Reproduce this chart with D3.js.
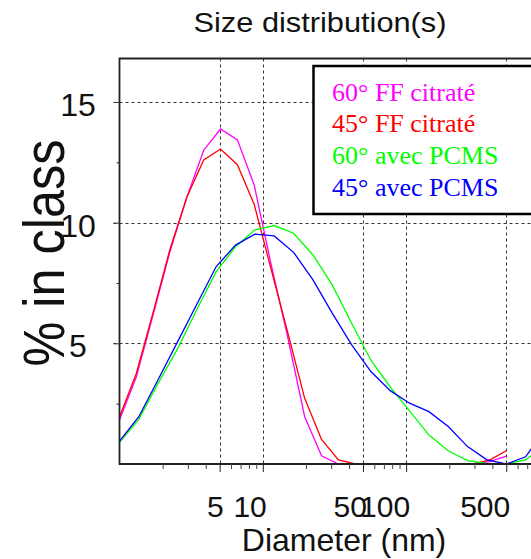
<!DOCTYPE html>
<html>
<head>
<meta charset="utf-8">
<script src="https://cdn.jsdelivr.net/npm/d3@7"></script>
<style>
  html, body { margin: 0; padding: 0; background: #fff; }
  svg { display: block; }
</style>
</head>
<body>
<div id="chart"></div>
<script>
// ---- Data ----
const sizesFF = [1, 1.31, 1.72, 2.25, 2.95, 3.87, 5.07, 6.65, 8.71, 11.4, 15.0, 19.6,
                 25.7, 33.7, 44.2, 57.9, 75.9, 99.5, 130, 171, 224, 293, 385, 500];
const ff60 = [1.82, 3.6, 6.2, 8.8, 11.05, 13.0, 13.88, 13.43, 11.56, 8.3, 5.2, 1.96,
              0.34, 0, 0, 0, 0, 0, 0, 0, 0, 0, 0.1, 0.33];
const ff45 = [1.95, 3.75, 6.3, 8.9, 11.05, 12.6, 13.05, 12.4, 10.75, 8.1, 5.4, 2.72,
              1.02, 0.17, 0, 0, 0, 0, 0, 0, 0, 0, 0.17, 0.55];

const sizesPCMS = [1, 1.364, 1.862, 2.54, 3.466, 4.729, 6.452, 8.80, 12.0, 16.4, 22.4, 30.5,
                   41.6, 56.8, 77.5, 105.7, 144.3, 196.8, 268.6, 366.4, 500, 682, 931];
const pcms60 = [0.9, 1.85, 3.35, 4.77, 6.4, 7.97, 9.0, 9.7, 9.88, 9.56, 8.66, 7.42,
                5.84, 4.3, 3.19, 2.2, 1.2, 0.55, 0.14, 0.03, 0, 0.17, 0.75];
const pcms45 = [0.95, 1.96, 3.5, 5.06, 6.62, 8.18, 9.07, 9.52, 9.45, 8.77, 7.63, 6.25,
                4.95, 3.83, 3.04, 2.52, 2.17, 1.55, 0.72, 0.17, 0, 0.3, 1.4];

const seriesNames = ["60° FF citraté", "45° FF citraté", "60° avec PCMS", "45° avec PCMS"];
const seriesColors = ["#ff00ff", "#ff0000", "#00ff00", "#0000ff"];

const xMajorTicks = [5, 10, 50, 100, 500];
const xTickLabels = ["5", "10", "50", "100", "500"];
const yMajorTicks = [5, 10, 15];
const yTickLabels = ["5", "10", "15"];
const yMinorTicks = [2.5, 7.5, 12.5];

const titleText = "Size distribution(s)";
const xTitle = "Diameter (nm)";
const yTitle = "% in class";

// ---- Layout ----
const W = 531, H = 559;
const plotL = 119.5, plotT = 58.5, plotB = 464;
const decade = 143.3;
const x = d3.scaleLog().domain([1, 10000]).range([plotL, plotL + 4 * decade]);
const y = d3.scaleLinear().domain([0, 16.8]).range([plotB, plotT]);
const plotR = x(10000);

const svg = d3.select("#chart").append("svg")
  .attr("width", W).attr("height", H);

const clipId = "plotclip";
svg.append("clipPath").attr("id", clipId)
  .append("rect").attr("x", plotL).attr("y", plotT)
  .attr("width", plotR - plotL).attr("height", plotB - plotT);

// grid lines
const grid = svg.append("g").attr("stroke", "#333").attr("stroke-width", 1)
  .attr("stroke-dasharray", "3,3");
grid.selectAll("line.v").data(xMajorTicks).join("line")
  .attr("x1", d => Math.round(x(d)) + 0.5).attr("x2", d => Math.round(x(d)) + 0.5)
  .attr("y1", plotT).attr("y2", plotB);
grid.selectAll("line.h").data(yMajorTicks).join("line")
  .attr("x1", plotL - 6).attr("x2", plotR)
  .attr("y1", d => Math.round(y(d)) + 0.5).attr("y2", d => Math.round(y(d)) + 0.5);

// data lines
const dataSets = [
  { sizes: sizesFF, vals: ff60, color: seriesColors[0] },
  { sizes: sizesFF, vals: ff45, color: seriesColors[1] },
  { sizes: sizesPCMS, vals: pcms60, color: seriesColors[2] },
  { sizes: sizesPCMS, vals: pcms45, color: seriesColors[3] }
];
const line = d3.line().x(d => x(d[0])).y(d => y(d[1]));
const gLines = svg.append("g").attr("clip-path", `url(#${clipId})`);
dataSets.forEach(s => {
  gLines.append("path")
    .datum(s.sizes.map((v, i) => [v, s.vals[i]]))
    .attr("fill", "none").attr("stroke", s.color).attr("stroke-width", 1.3)
    .attr("d", line);
});

// frame
svg.append("path")
  .attr("d", `M${plotR},${plotT}H${plotL}V${plotB}H${plotR}`)
  .attr("fill", "none").attr("stroke", "#222").attr("stroke-width", 1.8);

// x axis ticks (bottom)
const xAxis = d3.axisBottom(x)
  .tickValues(xMajorTicks).tickSize(8).tickFormat("");
svg.append("g").attr("transform", `translate(0,${plotB})`).call(xAxis)
  .call(g => g.select(".domain").remove())
  .call(g => g.selectAll("line").attr("stroke", "#222"));
const minorX = x.ticks().filter(v => !xMajorTicks.includes(v) && v > 1);
const xAxisMinor = d3.axisBottom(x).tickValues(minorX).tickSize(5).tickFormat("");
svg.append("g").attr("transform", `translate(0,${plotB})`).call(xAxisMinor)
  .call(g => g.select(".domain").remove())
  .call(g => g.selectAll("line").attr("stroke", "#444"));

// x tick labels
svg.append("g").selectAll("text").data(xMajorTicks).join("text")
  .attr("x", d => x(d) + 4).attr("y", 516.5)
  .attr("text-anchor", "end")
  .attr("font-family", "Liberation Sans, Arial, sans-serif")
  .attr("font-size", 30).attr("fill", "#111")
  .text((d, i) => xTickLabels[i]);

// y axis ticks
const yAxis = d3.axisLeft(y).tickValues(yMajorTicks).tickSize(6).tickFormat("");
svg.append("g").attr("transform", `translate(${plotL},0)`).call(yAxis)
  .call(g => g.select(".domain").remove())
  .call(g => g.selectAll("line").attr("stroke", "#333"));
const yAxisMinor = d3.axisLeft(y).tickValues(yMinorTicks).tickSize(3).tickFormat("");
svg.append("g").attr("transform", `translate(${plotL},0)`).call(yAxisMinor)
  .call(g => g.select(".domain").remove())
  .call(g => g.selectAll("line").attr("stroke", "#333"));

// y tick labels
svg.append("g").selectAll("text").data(yMajorTicks).join("text")
  .attr("x", 78).attr("y", d => y(d) + 14)
  .attr("text-anchor", "middle")
  .attr("font-family", "Liberation Sans, Arial, sans-serif")
  .attr("font-size", 32).attr("fill", "#111")
  .text((d, i) => yTickLabels[i]);

// legend
const legend = svg.append("g");
legend.append("rect")
  .attr("x", 313.5).attr("y", 66).attr("width", 260).attr("height", 148)
  .attr("fill", "#fff").attr("stroke", "#000").attr("stroke-width", 2.5);
legend.selectAll("text").data(seriesNames).join("text")
  .attr("x", 332).attr("y", (d, i) => 100.5 + i * 31.8)
  .attr("font-family", "Liberation Serif, Times New Roman, serif")
  .attr("font-size", 26)
  .attr("fill", (d, i) => seriesColors[i])
  .text(d => d);

// titles
svg.append("text")
  .attr("x", 193.5).attr("y", 31.5)
  .attr("font-family", "Liberation Sans, Arial, sans-serif")
  .attr("font-size", 28).attr("fill", "#111")
  .attr("textLength", 253).attr("lengthAdjust", "spacingAndGlyphs")
  .text(titleText);

svg.append("text")
  .attr("x", 344).attr("y", 551)
  .attr("text-anchor", "middle")
  .attr("font-family", "Liberation Sans, Arial, sans-serif")
  .attr("font-size", 32).attr("fill", "#111")
  .text(xTitle);

svg.append("text")
  .attr("transform", "translate(63.5,253) rotate(-90)")
  .attr("text-anchor", "middle")
  .attr("font-family", "Liberation Sans, Arial, sans-serif")
  .attr("font-size", 58).attr("fill", "#111")
  .attr("textLength", 227).attr("lengthAdjust", "spacingAndGlyphs")
  .text(yTitle);
</script>
</body>
</html>
